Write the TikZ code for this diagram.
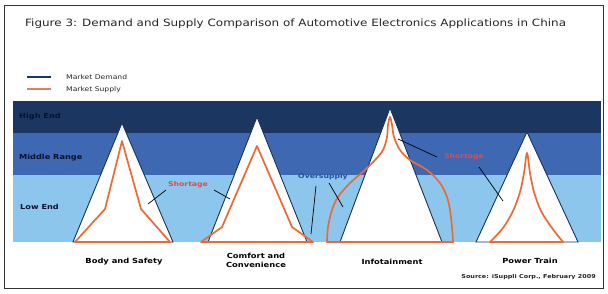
\documentclass[tikz,border=0pt]{standalone}
\usepackage{fontspec}
\setmainfont{DejaVu Sans}[FakeStretch=1.19]
\definecolor{bandhi}{RGB}{27,54,96}
\definecolor{bandmid}{RGB}{62,104,178}
\definecolor{bandlow}{RGB}{140,198,236}
\definecolor{navy}{RGB}{26,48,86}
\definecolor{lbltext}{RGB}{10,18,40}
\definecolor{orng}{RGB}{236,106,52}
\definecolor{legorng}{RGB}{222,128,88}
\definecolor{shortred}{RGB}{232,72,72}
\definecolor{overblue}{RGB}{42,82,156}
\begin{document}
\begin{tikzpicture}[x=1pt,y=-1pt,
  tri/.style={draw=navy,fill=white,line width=0.9pt,line join=miter},
  supply/.style={draw=orng,line width=1.7pt,line join=round},
  ptr/.style={draw=black,line width=0.7pt},
  bandlbl/.style={anchor=west,font=\bfseries\fontsize{6.9}{7}\selectfont,text=lbltext,inner sep=0pt},
  catlbl/.style={font=\bfseries\fontsize{7}{9}\selectfont,text=black,inner sep=0pt,align=center},
  leglbl/.style={anchor=west,font=\fontsize{6.4}{7}\selectfont,text=black!85,inner sep=0pt},
  shortlbl/.style={font=\bfseries\fontsize{6.5}{7}\selectfont,text=shortred,inner sep=0pt},
  overlbl/.style={font=\bfseries\fontsize{6.5}{7}\selectfont,text=overblue,inner sep=0pt}]
\useasboundingbox (0,0) rectangle (608,293);
\fill[white] (0,0) rectangle (608,293);
\draw[black!80,line width=0.8pt] (4,5) rectangle (603,288);
% title
\node[anchor=west,inner sep=0pt,font=\fontsize{10.05}{12}\selectfont,text=black!85] (title) at (25,24)
  {Figure 3: Demand and Supply Comparison of Automotive Electronics Applications in China};
% legend
\coordinate (ld1) at (27,77); \coordinate (ld2) at (51,77);
\coordinate (ls1) at (27,89); \coordinate (ls2) at (51,89);
\draw[bandhi,line width=2.6pt] (ld1) -- (ld2);
\draw[legorng,line width=1.8pt] (ls1) -- (ls2);
\node[leglbl] (legd) at (66,77.5) {Market Demand};
\node[leglbl] (legs) at (66,90) {Market Supply};
% bands
\fill[bandhi] (13,101) rectangle (601,133);
\fill[bandmid] (13,133) rectangle (601,175);
\fill[bandlow] (13,175) rectangle (601,242);
\node[bandlbl] (hi) at (19,117) {High End};
\node[bandlbl] (mid) at (19,158) {Middle Range};
\node[bandlbl] (low) at (20,207) {Low End};
% triangles (demand)
\draw[tri] (73,242) -- (122,123) -- (173,242) -- cycle;
\draw[tri] (208,242) -- (257,117) -- (307,242) -- cycle;
\draw[tri] (340,242) -- (390,108) -- (442,242) -- cycle;
\draw[tri] (476,242) -- (527,132) -- (578,242) -- cycle;
% supply curves
\draw[supply] (75,242) -- (105,209) -- (122,141) -- (141,209) -- (170,242) -- cycle;
\draw[supply] (201,242) -- (222,227) -- (257,146) -- (292,227) -- (313,242) -- cycle;
\draw[supply] plot[smooth,tension=0.55] coordinates {(327,242) (328,227) (332,210) (338,197) (350,183) (365,170) (375,160) (383,150) (387,137) (388,125) (390,117) (392,125) (394,137) (400,150) (410,160) (427,170) (440,183) (447,197) (450,210) (452,227) (453,242)} -- cycle;
\draw[supply] plot[smooth,tension=0.5] coordinates {(490,242) (503,228) (513,211) (520,192) (524,173) (527,153) (530,173) (534,192) (541,211) (552,228) (563,242)} -- cycle;
% labels
\node[shortlbl] (sh1) at (188,185) {Shortage};
\node[shortlbl] (sh2) at (464,157) {Shortage};
\node[overlbl] (ov) at (323,177) {Oversupply};
\coordinate (p1a) at (166,190); \coordinate (p1b) at (148,204);
\coordinate (p2a) at (214,190); \coordinate (p2b) at (230,199);
\coordinate (p3a) at (316,186); \coordinate (p3b) at (311,234);
\coordinate (p4a) at (329,183); \coordinate (p4b) at (343,207);
\coordinate (p5a) at (437,157); \coordinate (p5b) at (398,139);
\coordinate (p6a) at (479,167); \coordinate (p6b) at (503,201);
\draw[ptr] (p1a) -- (p1b);
\draw[ptr] (p2a) -- (p2b);
\draw[ptr] (p3a) -- (p3b);
\draw[ptr] (p4a) -- (p4b);
\draw[ptr] (p5a) -- (p5b);
\draw[ptr] (p6a) -- (p6b);
% category labels
\node[catlbl] (c1) at (124,262) {Body and Safety};
\node[catlbl] (c2) at (256,260.5) {Comfort and\\Convenience};
\node[catlbl] (c3) at (392,262) {Infotainment};
\node[catlbl] (c4) at (530,261) {Power Train};
\node[anchor=east,inner sep=0pt,font=\bfseries\fontsize{5.4}{6}\selectfont,text=black!85] (src) at (596,277) {Source: iSuppli Corp., February 2009};
\end{tikzpicture}
\end{document}
